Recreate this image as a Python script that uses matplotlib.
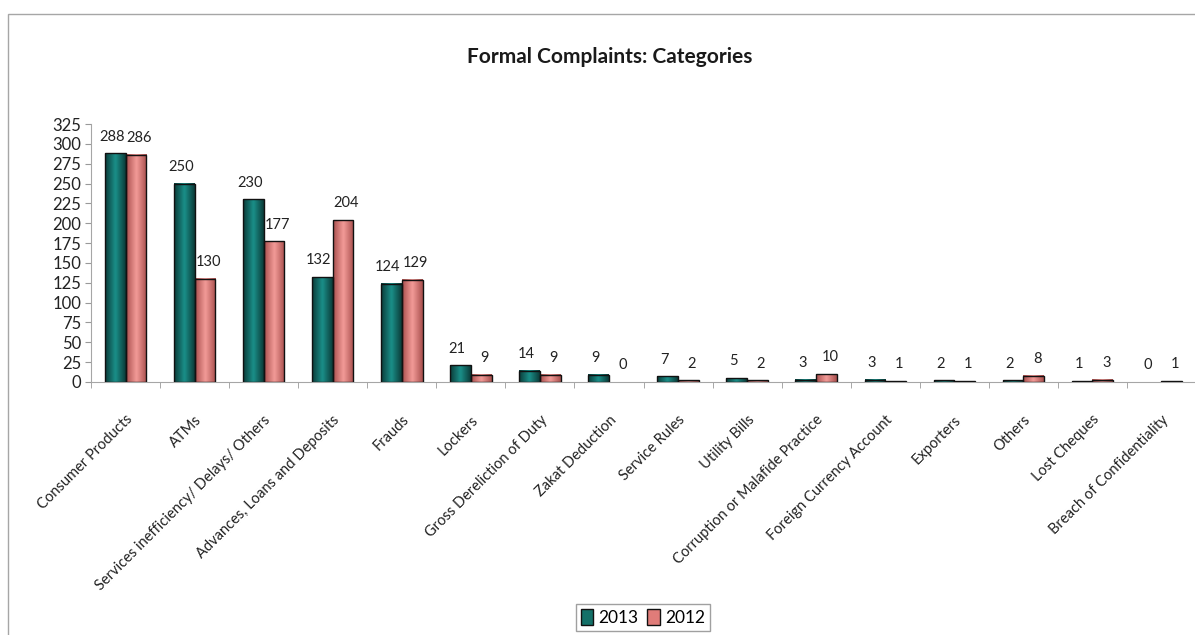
import numpy as np
import matplotlib
matplotlib.use('Agg')
import matplotlib.pyplot as plt
from matplotlib.colors import LinearSegmentedColormap
from matplotlib.patches import Patch, Rectangle

plt.rcParams['font.family'] = ['Lato', 'DejaVu Sans']

categories = ['Consumer Products', 'ATMs', 'Services inefficiency/ Delays/ Others',
              'Advances, Loans and Deposits', 'Frauds', 'Lockers',
              'Gross Dereliction of Duty', 'Zakat Deduction', 'Service Rules',
              'Utility Bills', 'Corruption or Malafide Practice',
              'Foreign Currency Account', 'Exporters', 'Others', 'Lost Cheques',
              'Breach of Confidentiality']
y2013 = [288, 250, 230, 132, 124, 21, 14, 9, 7, 5, 3, 3, 2, 2, 1, 0]
y2012 = [286, 130, 177, 204, 129, 9, 9, 0, 2, 2, 10, 1, 1, 8, 3, 1]
yticks = list(range(0, 326, 25))

teal_cmap = LinearSegmentedColormap.from_list('teal', ['#1a8e88', '#0b3b38'])
red_cmap = LinearSegmentedColormap.from_list('red', ['#f29a97', '#a9504e'])

fig = plt.figure(figsize=(11.95, 6.35), dpi=100)
# outer chart frame (only left/top visible in the original)
fig.patches.append(Rectangle((8 / 1195, -0.05), 1.2, 1 - 14 / 635 + 0.05,
                             transform=fig.transFigure, fill=False,
                             edgecolor='#a6a6a6', linewidth=1.0))

ax = fig.add_axes([91 / 1195, 1 - 382 / 635, 1105 / 1195, 258 / 635])

x = np.arange(len(categories))
w = 0.3
b13 = ax.bar(x - w / 2, y2013, w, facecolor='none', edgecolor='#111111', linewidth=1.0, zorder=3)
b12 = ax.bar(x + w / 2, y2012, w, facecolor='none', edgecolor='#111111', linewidth=1.0, zorder=3)

grad = np.abs(np.linspace(-1, 1, 64)).reshape(1, -1)
for bars, cmap, dx in [(b13, teal_cmap, -2.5), (b12, red_cmap, 2.5)]:
    for r in bars:
        h = r.get_height()
        if h <= 0:
            r.set_linewidth(0)
            continue
        x0 = r.get_x()
        ax.imshow(grad, extent=(x0, x0 + r.get_width(), 0, h), cmap=cmap,
                  aspect='auto', interpolation='bicubic', zorder=2)
    for r in bars:
        ax.annotate(f'{int(r.get_height())}', (r.get_x() + r.get_width() / 2, r.get_height()),
                    xytext=(dx, 7), textcoords='offset points', ha='center', va='bottom',
                    fontsize=10.5, color='#222222')

ax.set_xlim(-0.5, len(categories) - 0.5)
ax.set_ylim(0, 325)
ax.set_yticks(yticks)
ax.tick_params(axis='y', labelsize=12, length=4, color='#999999', labelcolor='#222222', pad=3)

ax.set_xticks(x)
ax.set_xticklabels(categories, rotation=45, ha='right', rotation_mode='anchor',
                   fontsize=10.5, color='#222222')
ax.tick_params(axis='x', which='major', length=0, pad=22)
ax.set_xticks(np.arange(len(categories) + 1) - 0.5, minor=True)
ax.tick_params(axis='x', which='minor', length=4, color='#999999')

for s in ['top', 'right']:
    ax.spines[s].set_visible(False)
for s in ['left', 'bottom']:
    ax.spines[s].set_color('#a6a6a6')

fig.text(610 / 1195, 1 - 57 / 635, 'Formal Complaints: Categories', ha='center', va='center',
         fontsize=15, fontweight='bold', color='#1a1a1a')

handles = [Patch(facecolor='#137068', edgecolor='#111111'),
           Patch(facecolor='#e07c79', edgecolor='#111111')]
fig.legend(handles, ['2013', '2012'], loc='upper left',
           bbox_to_anchor=(576 / 1195, 1 - 604 / 635), ncol=2, fontsize=12.5,
           frameon=True, fancybox=False, edgecolor='#888888', handlelength=0.7,
           handleheight=1.0, handletextpad=0.3, columnspacing=0.5, borderpad=0.3,
           borderaxespad=0)

fig.savefig('out.png', dpi=100)
